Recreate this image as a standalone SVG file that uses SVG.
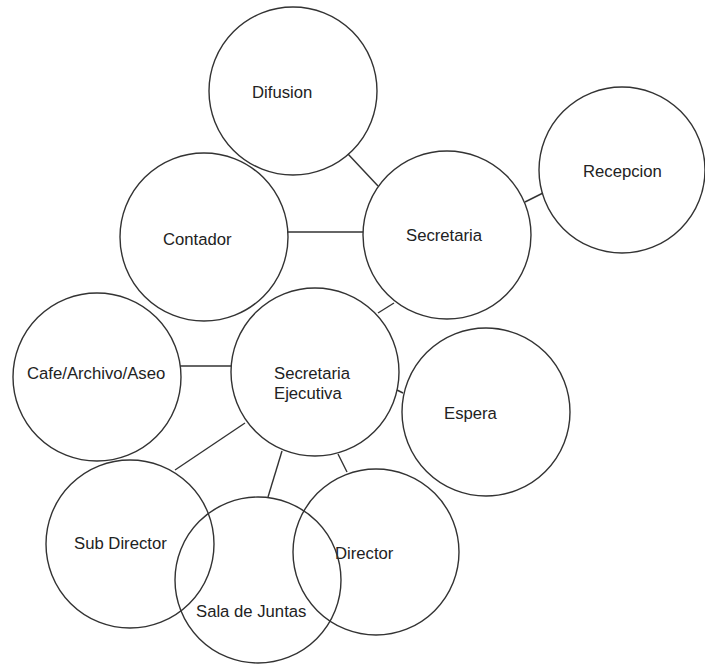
<svg xmlns="http://www.w3.org/2000/svg" width="705" height="666" viewBox="0 0 705 666">
<style>
.n{fill:none;stroke:#333;stroke-width:1.4}
.c line{stroke:#333;stroke-width:1.4}
text{font-family:"Liberation Sans",Arial,sans-serif;font-size:16.7px;fill:#222}
</style>
<rect width="705" height="666" fill="#fff"/>
<g id="connectors" class="c">
<line x1="348" y1="154" x2="378" y2="186"/>
<line x1="287" y1="232" x2="363" y2="232"/>
<line x1="525" y1="202" x2="543" y2="193"/>
<line x1="378" y1="313" x2="394" y2="303"/>
<line x1="180" y1="366" x2="231" y2="366"/>
<line x1="397" y1="390" x2="403" y2="393"/>
<line x1="175" y1="470" x2="245" y2="423"/>
<line x1="282" y1="451" x2="268" y2="497"/>
<line x1="338" y1="454" x2="347" y2="472"/>
</g>
<g id="difusion"><circle class="n" cx="293" cy="91" r="84"/><text x="252" y="98">Difusion</text></g>
<g id="recepcion"><circle class="n" cx="622" cy="170" r="83"/><text x="583" y="177">Recepcion</text></g>
<g id="contador"><circle class="n" cx="204" cy="237" r="84"/><text x="163" y="245">Contador</text></g>
<g id="secretaria"><circle class="n" cx="447" cy="235" r="84"/><text x="406" y="241">Secretaria</text></g>
<g id="cafe"><circle class="n" cx="97" cy="377" r="84"/><text x="27" y="379">Cafe/Archivo/Aseo</text></g>
<g id="secretaria-ejecutiva"><circle class="n" cx="315" cy="372" r="84"/><text x="274" y="379">Secretaria</text><text x="274" y="399">Ejecutiva</text></g>
<g id="espera"><circle class="n" cx="486" cy="412" r="84"/><text x="444" y="419">Espera</text></g>
<g id="sub-director"><circle class="n" cx="130" cy="544" r="84"/><text x="74" y="549">Sub Director</text></g>
<g id="director"><circle class="n" cx="376" cy="552" r="83"/><text x="335" y="559">Director</text></g>
<g id="sala-de-juntas"><circle class="n" cx="258" cy="580" r="83"/><text x="196" y="617">Sala de Juntas</text></g>
</svg>
